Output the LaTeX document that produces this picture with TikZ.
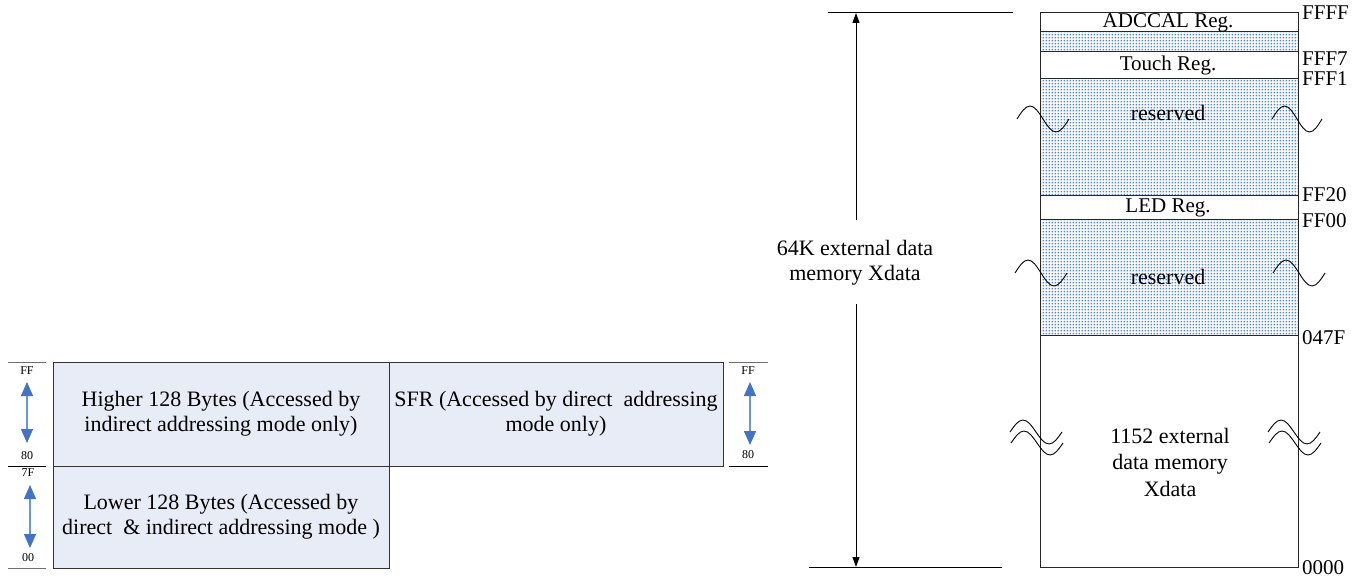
\documentclass[tikz,border=0pt]{standalone}
\usepackage{fontspec}
\setmainfont{Liberation Serif}
\usetikzlibrary{arrows.meta,patterns.meta}
\definecolor{boxfill}{RGB}{231,236,247}
\definecolor{dotblue}{RGB}{84,134,214}
\definecolor{arrblue}{RGB}{68,114,196}
\definecolor{shaftblue}{RGB}{105,152,215}
\definecolor{scalegray}{RGB}{110,110,110}
\tikzdeclarepattern{
  name=sqdots,
  type=uncolored,
  bounding box={(0pt,0pt) and (3.3pt,3.3pt)},
  tile size={(3.3pt,3.3pt)},
  code={\fill (0.8pt,0.8pt) rectangle (2.5pt,2.5pt);}
}
\tikzset{
  lbox/.style={draw=black!80, line width=1pt, fill=boxfill},
  memline/.style={draw=black!85, line width=1pt},
  dotregion/.style={pattern=sqdots, pattern color=dotblue},
  bigtxt/.style={font=\fontsize{22}{25}\selectfont, align=center, inner sep=0pt},
  regtxt/.style={font=\fontsize{21}{24}\selectfont, align=center, inner sep=0pt},
  addr/.style={font=\fontsize{21}{23}\selectfont, anchor=west, inner sep=0pt},
  smalltxt/.style={font=\fontsize{12}{13}\selectfont, inner sep=0pt},
  bluearrow/.style={draw=shaftblue, line width=1.3pt,
    {Triangle[width=12pt,length=14pt,color=arrblue,fill=arrblue]}-{Triangle[width=12pt,length=14pt,color=arrblue,fill=arrblue]}},
  dimarrow/.style={draw=black, line width=1pt, -{Triangle[width=7pt,length=10pt]}},
  wave/.style={draw=black, line width=0.9pt},
  scaleblack/.style={draw=black, line width=1pt},
  scalegrayline/.style={draw=scalegray, line width=1pt}
}
\begin{document}
\begin{tikzpicture}[x=1pt,y=-1pt]
\useasboundingbox (0,0) rectangle (1356,578);

% ---------------- left internal memory blocks ----------------
\draw[lbox] (53,362) rectangle (389,466);
\draw[lbox] (53,466) rectangle (389,568);
\draw[lbox] (389,362) rectangle (723,466);
\node[bigtxt] (higher) at (221,414) {Higher 128 Bytes (Accessed by\\indirect addressing mode only)};
\node[bigtxt] (lower) at (221,517) {Lower 128 Bytes (Accessed by\\direct~ \& indirect addressing mode )};
\node[bigtxt] (sfr) at (556,414) {SFR (Accessed by direct~ addressing\\mode only)};

% left scale
\draw[scalegrayline] (8,362) -- (46,362);
\draw[scaleblack] (8,466) -- (46,466);
\draw[scalegrayline] (8,568) -- (46,568);
\node[smalltxt] (lff) at (27,371) {FF};
\node[smalltxt] (l80) at (27,456) {80};
\node[smalltxt] (l7f) at (28,473) {7F};
\node[smalltxt] (l00) at (28,558) {00};
\coordinate (la1) at (27,382);
\coordinate (la2) at (27,443);
\coordinate (lb1) at (30,485);
\coordinate (lb2) at (30,548);
\draw[bluearrow] (la1) -- (la2);
\draw[bluearrow] (lb1) -- (lb2);

% right scale of SFR
\draw[scalegrayline] (729,362) -- (768,362);
\draw[scaleblack] (729,466) -- (768,466);
\node[smalltxt] (rff) at (748,371) {FF};
\node[smalltxt] (r80) at (748,455) {80};
\coordinate (ra1) at (750,382);
\coordinate (ra2) at (750,445);
\draw[bluearrow] (ra1) -- (ra2);

% ---------------- 64K dimension ----------------
\draw[scaleblack] (828,13) -- (1013,13);
\draw[scaleblack] (809,567) -- (1002,567);
\coordinate (dtop) at (856,13);
\coordinate (dbot) at (856,567);
\coordinate (gapT) at (856,220);
\coordinate (gapB) at (856,304);
\node[bigtxt] (dimtxt) at (855,263) {64K external data\\memory Xdata};
\draw[dimarrow] (gapT) -- (dtop);
\draw[dimarrow] (gapB) -- (dbot);

% ---------------- external memory map ----------------
\fill[dotregion] (1040,32) rectangle (1298,52);
\fill[dotregion] (1040,78) rectangle (1298,195);
\fill[dotregion] (1040,219) rectangle (1298,335);
\draw[memline] (1040,13) rectangle (1298,567);
\foreach \yy in {32,52,78,195,219,335} {\draw[memline] (1040,\yy) -- (1298,\yy);}

\node[regtxt] (adccal) at (1168,23) {ADCCAL Reg.};
\node[regtxt] (touch) at (1168,65) {Touch Reg.};
\node[bigtxt] (res1) at (1168,113) {reserved};
\node[regtxt] (led) at (1168,208) {LED Reg.};
\node[bigtxt] (res2) at (1168,277) {reserved};
\node[bigtxt, font=\fontsize{22}{26.5}\selectfont] (ext) at (1170,462) {1152 external\\data memory\\Xdata};

\node[addr] (affff) at (1302,13) {FFFF};
\node[addr] (afff7) at (1302,59) {FFF7};
\node[addr] (afff1) at (1302,79) {FFF1};
\node[addr] (aff20) at (1302,195) {FF20};
\node[addr] (aff00) at (1302,221) {FF00};
\node[addr] (a047f) at (1302,338) {047F};
\node[addr] (a0000) at (1302,568) {0000};

% break marks (single)
\draw[wave] (1017,119) sin (1030,106) cos (1043,119) sin (1056,132) cos (1069,119);
\draw[wave] (1272,119) sin (1284.5,106) cos (1297,119) sin (1309.5,132) cos (1322,119);
\draw[wave] (1015,273) sin (1028,260) cos (1041,273) sin (1054,286) cos (1067,273);
\draw[wave] (1273,273) sin (1286,260) cos (1299,273) sin (1312,286) cos (1325,273);
% break marks (double)
\draw[wave] (1010,432) sin (1023,420) cos (1036,432) sin (1049,444) cos (1062,432);
\draw[wave] (1011,443) sin (1024,431) cos (1037,443) sin (1050,455) cos (1063,443);
\draw[wave] (1268,432) sin (1281,420) cos (1294,432) sin (1307,444) cos (1320,432);
\draw[wave] (1269,443) sin (1282,431) cos (1295,443) sin (1308,455) cos (1321,443);
\end{tikzpicture}
\end{document}
